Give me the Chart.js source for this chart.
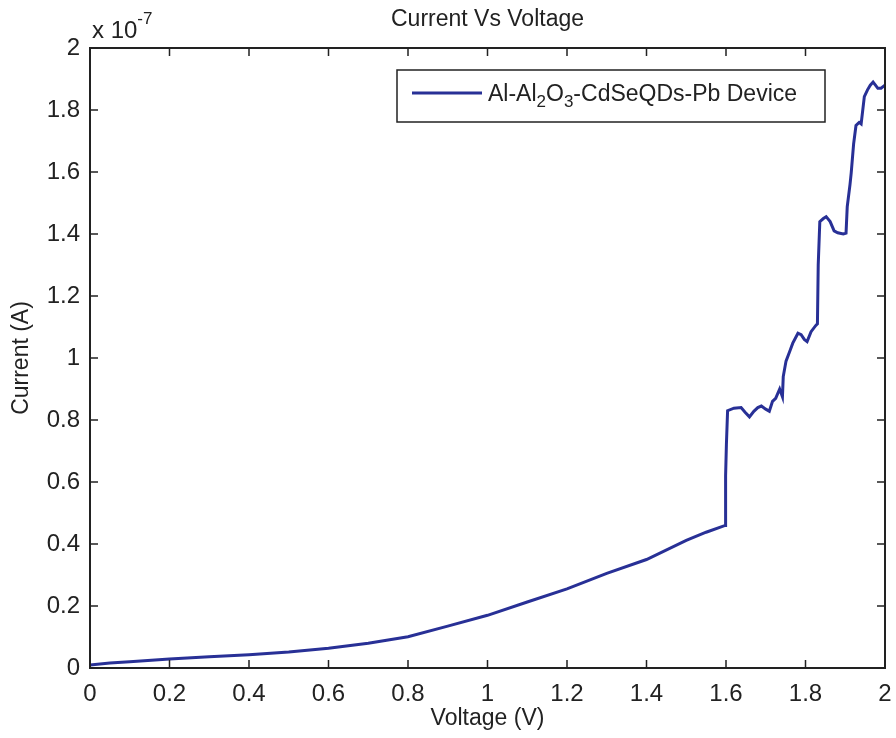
<!DOCTYPE html>
<html>
<head>
<meta charset="utf-8">
<script src="https://cdn.jsdelivr.net/npm/chart.js@4.4.1/dist/chart.umd.min.js"></script>
<style>
  html, body { margin: 0; padding: 0; background: #fff; }
  #wrap { width: 896px; height: 738px; }
</style>
</head>
<body>
<div id="wrap"><canvas id="iv"></canvas></div>
<script>
// I-V sweep, current in units of 1e-7 A
const voltage = [
  0, 0.05, 0.1, 0.2, 0.3, 0.4, 0.5, 0.6, 0.7, 0.8, 0.9, 1.0, 1.1, 1.2, 1.3, 1.4, 1.5, 1.55, 1.598,
  1.599, 1.601, 1.604, 1.62, 1.638, 1.648, 1.659, 1.67, 1.68, 1.689, 1.70, 1.709, 1.717, 1.725,
  1.735, 1.742, 1.744, 1.751, 1.76, 1.768, 1.781, 1.789, 1.797, 1.804, 1.814, 1.826, 1.830,
  1.832, 1.836, 1.845, 1.852, 1.862, 1.872, 1.881, 1.895, 1.902, 1.905, 1.912, 1.915, 1.921,
  1.927, 1.935, 1.94, 1.948, 1.956, 1.963, 1.97, 1.976, 1.982, 1.99, 2.0
];
const current = [
  0.010, 0.016, 0.020, 0.029, 0.036, 0.043, 0.052, 0.064, 0.080, 0.101, 0.135, 0.170, 0.213, 0.255, 0.305, 0.350, 0.412, 0.438, 0.460,
  0.62, 0.72, 0.83, 0.838, 0.840, 0.825, 0.810, 0.828, 0.840, 0.845, 0.835, 0.828, 0.860, 0.870,
  0.900, 0.875, 0.940, 0.990, 1.020, 1.048, 1.080, 1.075, 1.060, 1.053, 1.085, 1.105, 1.110,
  1.300, 1.440, 1.450, 1.456, 1.440, 1.410, 1.404, 1.400, 1.403, 1.488, 1.560, 1.597, 1.690,
  1.750, 1.760, 1.755, 1.843, 1.865, 1.880, 1.890, 1.880, 1.870, 1.870, 1.880
];
const seriesName = 'Al-Al2O3-CdSeQDs-Pb Device';
const lineColor = 'rgb(40, 48, 150)';
const textFont = '"Liberation Sans", Arial, sans-serif';

// frame, inward ticks, title, exponent and legend drawn MATLAB style
const matlabFrame = {
  id: 'matlabFrame',
  afterDraw(chart) {
    const ctx = chart.ctx, a = chart.chartArea;
    const sx = chart.scales.x, sy = chart.scales.y;
    ctx.save();
    ctx.strokeStyle = '#222';
    ctx.lineWidth = 2;
    ctx.strokeRect(a.left, a.top, a.right - a.left, a.bottom - a.top);
    ctx.lineWidth = 1.5;
    ctx.beginPath();
    sx.ticks.forEach(t => {
      const px = sx.getPixelForValue(t.value);
      ctx.moveTo(px, a.bottom); ctx.lineTo(px, a.bottom - 8);
      ctx.moveTo(px, a.top); ctx.lineTo(px, a.top + 8);
    });
    sy.ticks.forEach(t => {
      const py = sy.getPixelForValue(t.value);
      ctx.moveTo(a.left, py); ctx.lineTo(a.left + 8, py);
      ctx.moveTo(a.right, py); ctx.lineTo(a.right - 8, py);
    });
    ctx.stroke();

    ctx.fillStyle = '#222';
    ctx.textBaseline = 'alphabetic';
    ctx.textAlign = 'center';
    ctx.font = '23px ' + textFont;
    ctx.fillText('Current Vs Voltage', (a.left + a.right) / 2, 26);

    ctx.textAlign = 'left';
    ctx.font = '24px ' + textFont;
    ctx.fillText('x 10', a.left + 2, 38);
    const w = ctx.measureText('x 10').width;
    ctx.font = '17px ' + textFont;
    ctx.fillText('-7', a.left + 2 + w, 24);

    // legend box
    const lx = 397, ly = 70, lw = 428, lh = 52;
    ctx.fillStyle = '#fff';
    ctx.fillRect(lx, ly, lw, lh);
    ctx.strokeStyle = '#222';
    ctx.lineWidth = 1.5;
    ctx.strokeRect(lx, ly, lw, lh);
    ctx.strokeStyle = lineColor;
    ctx.lineWidth = 3;
    ctx.beginPath();
    ctx.moveTo(412, 93); ctx.lineTo(482, 93);
    ctx.stroke();
    ctx.fillStyle = '#222';
    const parts = [['Al-Al', 0], ['2', 1], ['O', 0], ['3', 1], ['-CdSeQDs-Pb Device', 0]];
    let x = 488;
    parts.forEach(([s, sub]) => {
      ctx.font = (sub ? '17px ' : '23px ') + textFont;
      ctx.fillText(s, x, sub ? 107 : 101);
      x += ctx.measureText(s).width;
    });
    ctx.restore();
  }
};

new Chart(document.getElementById('iv'), {
  type: 'line',
  data: {
    datasets: [{
      label: seriesName,
      data: voltage.map((v, i) => ({x: v, y: current[i]})),
      borderColor: lineColor,
      borderWidth: 3,
      pointRadius: 0,
      tension: 0,
      fill: false
    }]
  },
  options: {
    responsive: true,
    maintainAspectRatio: false,
    animation: false,
    layout: { padding: { top: 48, right: 11, left: 0, bottom: 0 } },
    plugins: {
      legend: { display: false },
      tooltip: { enabled: false }
    },
    scales: {
      x: {
        type: 'linear',
        min: 0, max: 2,
        afterFit: s => { s.height = 70; },
        grid: { display: false },
        border: { display: false },
        ticks: {
          stepSize: 0.2,
          padding: 4,
          color: '#222',
          font: { family: textFont, size: 24 },
          callback: v => String(Number(v.toFixed(1)))
        },
        title: {
          display: true,
          text: 'Voltage (V)',
          color: '#222',
          font: { family: textFont, size: 23 },
          padding: { top: 0, bottom: 6 }
        }
      },
      y: {
        type: 'linear',
        min: 0, max: 2,
        afterFit: s => { s.width = 90; },
        grid: { display: false },
        border: { display: false },
        ticks: {
          stepSize: 0.2,
          padding: 2,
          color: '#222',
          font: { family: textFont, size: 24 },
          callback: v => String(Number(v.toFixed(1)))
        },
        title: {
          display: true,
          text: 'Current (A)',
          color: '#222',
          font: { family: textFont, size: 23 },
          padding: { top: 8, bottom: 0 }
        }
      }
    }
  },
  plugins: [matlabFrame]
});
</script>
</body>
</html>
